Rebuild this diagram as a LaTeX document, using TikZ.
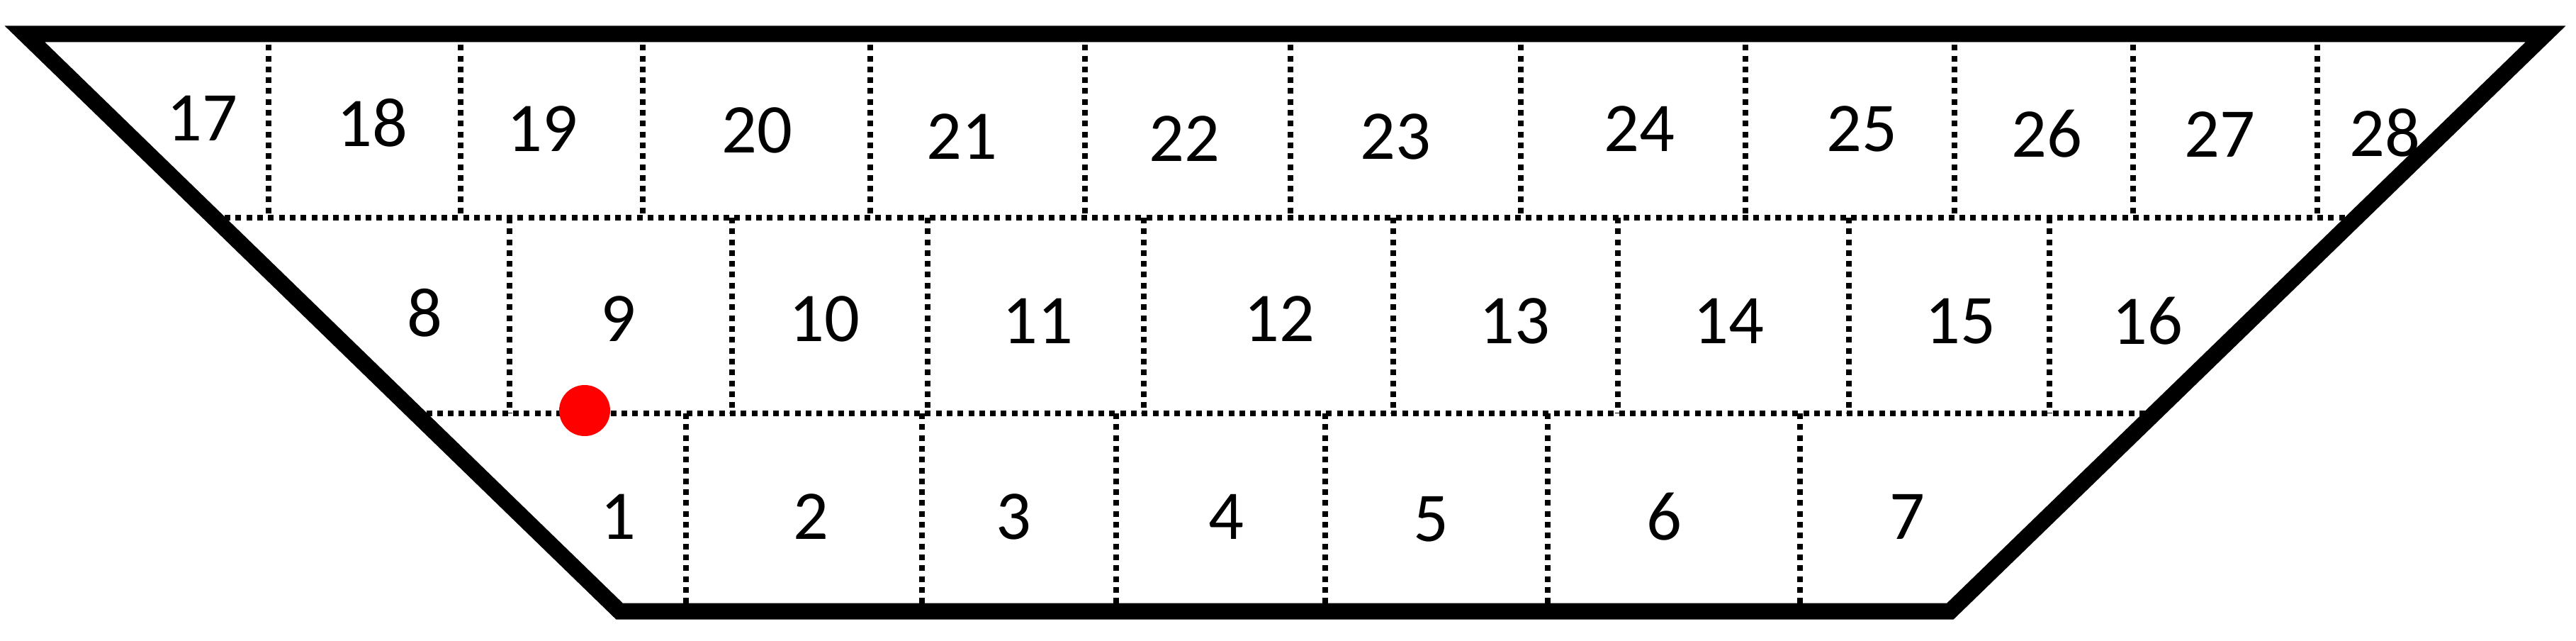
\documentclass[tikz,border=0pt]{standalone}
\usepackage{fontspec}
\setmainfont{Carlito}
\usetikzlibrary{calc}

\begin{document}
\begin{tikzpicture}[dots/.style={line width=0.08cm,dash pattern=on 0.08cm off 0.073cm},
    wall/.style={line width=0.23cm,line join=miter},
    num/.style={inner sep=0pt,font=\fontsize{28}{30}\selectfont}]
    \useasboundingbox (0,0) rectangle (36.35,-9.04);
    % corners of the section
    \coordinate (tl) at (0.35,-0.48);
    \coordinate (tr) at (35.92,-0.48);
    \coordinate (br) at (27.52,-8.62);
    \coordinate (bl) at (8.74,-8.62);
    \coordinate (l1) at ($(tl)!0.318!(bl)$);
    \coordinate (r1) at ($(tr)!0.318!(br)$);
    \coordinate (l2) at ($(tl)!0.657!(bl)$);
    \coordinate (r2) at ($(tr)!0.657!(br)$);
    % row lines
    \draw[dots] (l1) -- (r1);
    \draw[dots] (l2) -- (r2);
    % dividers
    \draw[dots] (3.79,-0.48) -- (3.79,-3.07) (6.50,-0.48) -- (6.50,-3.07)
        (9.07,-0.48) -- (9.07,-3.07) (12.28,-0.48) -- (12.28,-3.07)
        (15.31,-0.48) -- (15.31,-3.07) (18.21,-0.48) -- (18.21,-3.07)
        (21.46,-0.48) -- (21.46,-3.07) (24.63,-0.48) -- (24.63,-3.07)
        (27.58,-0.48) -- (27.58,-3.07) (30.10,-0.48) -- (30.10,-3.07)
        (32.70,-0.48) -- (32.70,-3.07);
    \draw[dots] (7.19,-3.07) -- (7.19,-5.83) (10.33,-3.07) -- (10.33,-5.83)
        (13.09,-3.07) -- (13.09,-5.83) (16.14,-3.07) -- (16.14,-5.83)
        (19.66,-3.07) -- (19.66,-5.83) (22.83,-3.07) -- (22.83,-5.83)
        (26.09,-3.07) -- (26.09,-5.83) (28.92,-3.07) -- (28.92,-5.83);
    \draw[dots] (9.68,-5.83) -- (9.68,-8.62) (13.01,-5.83) -- (13.01,-8.62)
        (15.75,-5.83) -- (15.75,-8.62) (18.70,-5.83) -- (18.70,-8.62)
        (21.84,-5.83) -- (21.84,-8.62) (25.40,-5.83) -- (25.40,-8.62);
    % outline
    \draw[wall] (tl) -- (tr) -- (br) -- (bl) -- cycle;
    \fill[red] (8.25,-5.79) circle (0.36);
    % numbers
    \node [num] (n17) at (2.85,-1.67) {17};
    \node [num] (n18) at (5.25,-1.73) {18};
    \node [num] (n19) at (7.65,-1.82) {19};
    \node [num] (n20) at (10.68,-1.84) {20};
    \node [num] (n21) at (13.57,-1.93) {21};
    \node [num] (n22) at (16.71,-1.96) {22};
    \node [num] (n23) at (19.69,-1.93) {23};
    \node [num] (n24) at (23.13,-1.82) {24};
    \node [num] (n25) at (26.27,-1.82) {25};
    \node [num] (n26) at (28.88,-1.89) {26};
    \node [num] (n27) at (31.32,-1.90) {27};
    \node [num] (n28) at (33.65,-1.87) {28};
    \node [num] (n8) at (5.99,-4.41) {8};
    \node [num] (n9) at (8.72,-4.50) {9};
    \node [num] (n10) at (11.63,-4.50) {10};
    \node [num] (n11) at (14.64,-4.53) {11};
    \node [num] (n12) at (18.05,-4.50) {12};
    \node [num] (n13) at (21.37,-4.53) {13};
    \node [num] (n14) at (24.39,-4.53) {14};
    \node [num] (n15) at (27.66,-4.53) {15};
    \node [num] (n16) at (30.30,-4.53) {16};
    \node [num] (n1) at (8.72,-7.29) {1};
    \node [num] (n2) at (11.44,-7.29) {2};
    \node [num] (n3) at (14.30,-7.29) {3};
    \node [num] (n4) at (17.30,-7.29) {4};
    \node [num] (n5) at (20.19,-7.32) {5};
    \node [num] (n6) at (23.48,-7.29) {6};
    \node [num] (n7) at (26.91,-7.29) {7};
\end{tikzpicture}
\end{document}
